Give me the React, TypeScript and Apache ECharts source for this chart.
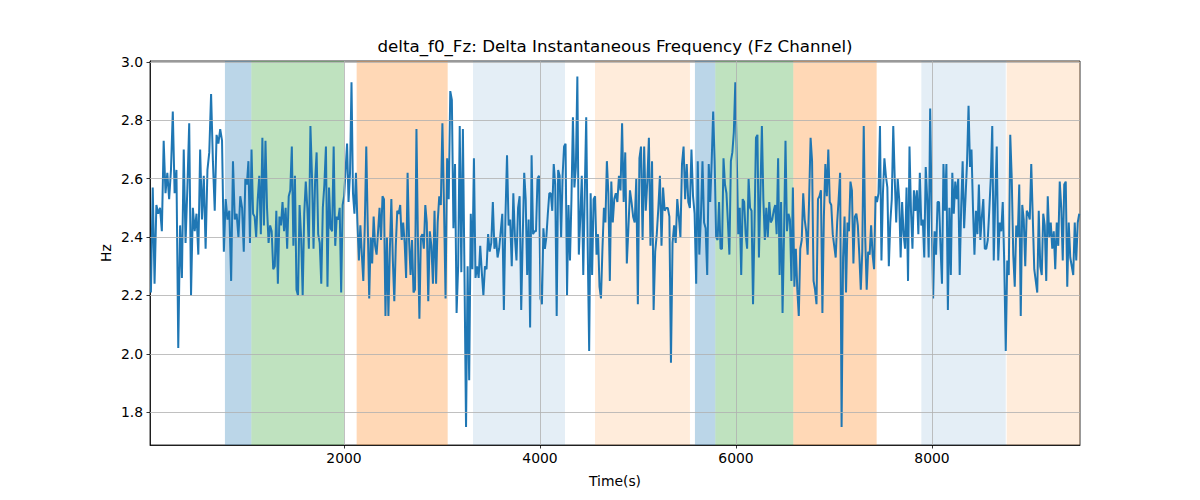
import React, { useEffect, useRef } from "react";
import * as echarts from "echarts";

// ---- data ----
const TITLE = "delta_f0_Fz: Delta Instantaneous Frequency (Fz Channel)";
const X_NAME = "Time(s)";
const Y_NAME = "Hz";
const X_MIN = 20.4;
const X_MAX = 9510;
const Y_MIN = 1.688;
const Y_MAX = 3.003;
const X_TICKS = [2000, 4000, 6000, 8000];
const Y_TICKS = [1.8, 2.0, 2.2, 2.4, 2.6, 2.8, 3.0];

// frequency readings, in ten consecutive equal time slices
const seg01 = [2.21, 2.57, 2.24, 2.51, 2.48, 2.50, 2.42, 2.73, 2.55, 2.62, 2.53, 2.63, 2.83, 2.55, 2.63, 2.02, 2.44, 2.26, 2.70, 2.38, 2.57, 2.79, 2.20, 2.50, 2.42, 2.48, 2.34, 2.70, 2.46, 2.61, 2.36, 2.63, 2.69, 2.89, 2.66, 2.49, 2.75, 2.72, 2.77, 2.73, 2.35, 2.53, 2.46, 2.49, 2.25, 2.66, 2.46, 2.48, 2.40, 2.54, 2.50];
const seg02 = [2.35, 2.60, 2.58, 2.66, 2.38, 2.70, 2.48, 2.47, 2.40, 2.53, 2.61, 2.41, 2.74, 2.44, 2.73, 2.50, 2.38, 2.44, 2.42, 2.29, 2.30, 2.49, 2.24, 2.47, 2.44, 2.52, 2.42, 2.50, 2.36, 2.54, 2.56, 2.71, 2.37, 2.61, 2.22, 2.20, 2.51, 2.40, 2.20, 2.48, 2.59, 2.50, 2.36, 2.78, 2.61, 2.36, 2.59, 2.69, 2.41, 2.38, 2.24, 2.50, 2.58, 2.71, 2.23, 2.57, 2.43, 2.42, 2.71, 2.37];
const seg03 = [2.47, 2.46, 2.50, 2.21, 2.51, 2.54, 2.63, 2.72, 2.52, 2.62, 2.93, 2.55, 2.48, 2.62, 2.45, 2.32, 2.44, 2.34, 2.25, 2.44, 2.71, 2.44, 2.19, 2.40, 2.31, 2.47, 2.37, 2.34, 2.42, 2.50, 2.39, 2.54, 2.53, 2.13, 2.40, 2.13, 2.36, 2.53, 2.32, 2.18, 2.37, 2.49, 2.48, 2.51, 2.39, 2.45, 2.38, 2.26, 2.62, 2.39, 2.27, 2.39, 2.21, 2.22, 2.77, 2.39, 2.12, 2.40, 2.41, 2.36, 2.51, 2.45, 2.18];
const seg04 = [2.42, 2.37, 2.24, 2.49, 2.24, 2.45, 2.54, 2.51, 2.79, 2.51, 2.19, 2.67, 2.53, 2.90, 2.87, 2.43, 2.65, 2.14, 2.30, 2.78, 2.28, 2.77, 2.28, 1.75, 2.30, 1.91, 2.48, 2.29, 2.67, 2.26, 2.30, 2.26, 2.37, 2.28, 2.20, 2.30, 2.29, 2.41, 2.35, 2.38, 2.52, 2.36, 2.40, 2.33, 2.36, 2.42, 2.48, 2.15, 2.47, 2.68, 2.44, 2.46, 2.30, 2.55, 2.40, 2.32, 2.50, 2.54, 2.15];
const seg05 = [2.40, 2.62, 2.53, 2.27, 2.46, 2.09, 2.68, 2.41, 2.42, 2.42, 2.60, 2.61, 2.19, 2.17, 2.43, 2.36, 2.40, 2.48, 2.55, 2.55, 2.49, 2.65, 2.58, 2.13, 2.63, 2.61, 2.40, 2.61, 2.71, 2.72, 2.20, 2.51, 2.32, 2.53, 2.81, 2.57, 2.64, 2.95, 2.34, 2.47, 2.61, 2.27, 2.55, 2.81, 2.37, 2.01, 2.55, 2.27, 2.53, 2.54, 2.34, 2.41, 2.23, 2.19, 2.36, 2.50, 2.45, 2.66, 2.55, 2.25, 2.59, 2.45, 2.53];
const seg06 = [2.55, 2.52, 2.61, 2.56, 2.79, 2.52, 2.69, 2.31, 2.43, 2.56, 2.52, 2.47, 2.45, 2.60, 2.17, 2.67, 2.71, 2.39, 2.71, 2.49, 2.59, 2.74, 2.37, 2.66, 2.15, 2.35, 2.41, 2.50, 2.61, 2.37, 2.57, 2.49, 2.50, 2.50, 2.47, 1.97, 2.38, 2.44, 2.38, 2.53, 2.47, 2.40, 2.65, 2.71, 2.53, 2.65, 2.52, 2.50, 2.70, 2.54, 2.48, 2.24, 2.66, 2.34, 2.47, 2.66, 2.45, 2.43, 2.27];
const seg07 = [2.65, 2.52, 2.66, 2.83, 2.66, 2.40, 2.39, 2.52, 2.36, 2.36, 2.67, 2.58, 2.55, 2.45, 2.34, 2.66, 2.69, 2.76, 2.93, 2.67, 2.41, 2.50, 2.27, 2.53, 2.52, 2.41, 2.36, 2.60, 2.50, 2.49, 2.17, 2.44, 2.74, 2.75, 2.33, 2.55, 2.78, 2.53, 2.39, 2.50, 2.40, 2.52, 2.45, 2.46, 2.49, 2.51, 2.41, 2.67, 2.27, 2.52, 2.14, 2.41, 2.73, 2.42, 2.48, 2.46, 2.25, 2.57, 2.23, 2.36, 2.22, 2.13, 2.36];
const seg08 = [2.39, 2.55, 2.46, 2.42, 2.34, 2.53, 2.74, 2.66, 2.25, 2.22, 2.17, 2.53, 2.54, 2.56, 2.14, 2.47, 2.65, 2.54, 2.70, 2.52, 2.51, 2.41, 2.37, 2.33, 2.45, 2.53, 2.62, 1.75, 2.33, 2.47, 2.21, 2.45, 2.42, 2.59, 2.56, 2.31, 2.47, 2.48, 2.44, 2.34, 2.22, 2.35, 2.78, 2.40, 2.22, 2.35, 2.34, 2.44, 2.34, 2.29, 2.54, 2.52, 2.55, 2.78, 2.32, 2.55, 2.67, 2.61, 2.57, 2.30, 2.45, 2.53, 2.78];
const seg09 = [2.60, 2.45, 2.60, 2.53, 2.33, 2.52, 2.41, 2.36, 2.57, 2.25, 2.71, 2.49, 2.36, 2.56, 2.49, 2.56, 2.41, 2.62, 2.44, 2.46, 2.33, 2.64, 2.53, 2.33, 2.84, 2.49, 2.19, 2.42, 2.34, 2.52, 2.52, 2.37, 2.24, 2.65, 2.49, 2.65, 2.15, 2.50, 2.27, 2.62, 2.48, 2.59, 2.53, 2.60, 2.27, 2.50, 2.66, 2.43, 2.54, 2.66, 2.85, 2.64, 2.70, 2.50, 2.34, 2.49, 2.41, 2.58, 2.39, 2.47, 2.53, 2.36, 2.36];
const seg10 = [2.39, 2.49, 2.60, 2.78, 2.32, 2.53, 2.71, 2.32, 2.45, 2.42, 2.52, 2.31, 2.01, 2.32, 2.27, 2.75, 2.60, 2.34, 2.23, 2.44, 2.40, 2.58, 2.13, 2.51, 2.46, 2.30, 2.49, 2.48, 2.46, 2.65, 2.47, 2.29, 2.25, 2.21, 2.49, 2.30, 2.27, 2.48, 2.44, 2.25, 2.54, 2.40, 2.45, 2.36, 2.42, 2.29, 2.45, 2.37, 2.59, 2.50, 2.32, 2.58, 2.59, 2.23, 2.45, 2.33, 2.30, 2.27, 2.45, 2.32, 2.45, 2.48];
const SEGMENTS = [seg01, seg02, seg03, seg04, seg05, seg06, seg07, seg08, seg09, seg10];

// shaded intervals [start, end, kind]
const SPAN_STARTS = [785, 1055, 2129, 3316, 4561, 5581, 5789, 6585, 7891, 8762];
const SPAN_ENDS = [1055, 2000, 3058, 4255, 5530, 5789, 6585, 7435, 8752, 9510];
const SPAN_KINDS = ["blue", "green", "orange", "lightblue", "lightorange", "blue", "green", "orange", "lightblue", "lightorange"];

const SPAN_COLORS: Record<string, string> = {
  blue: "rgba(31,119,180,0.3)",
  green: "rgba(44,160,44,0.3)",
  orange: "rgba(255,127,14,0.3)",
  lightblue: "rgba(31,119,180,0.12)",
  lightorange: "rgba(255,127,14,0.15)",
};

const FONT = "DejaVu Sans";

function buildLine(): [number, number][] {
  const span = (X_MAX - X_MIN) / SEGMENTS.length;
  const out: [number, number][] = [];
  SEGMENTS.forEach((seg, k) => {
    const step = span / seg.length;
    seg.forEach((v, i) => {
      out.push([X_MIN + k * span + (i + 0.5) * step, v]);
    });
  });
  return out;
}

export default function App() {
  const ref = useRef<HTMLDivElement>(null);
  useEffect(() => {
    if (!ref.current) return;
    const chart = echarts.init(ref.current, null, { renderer: "svg" });
    const gridLeft = 150, gridRight = 1080, gridTop = 61, gridBottom = 445;
    const cx = (gridLeft + gridRight) / 2;
    const gridMarks: any[] = [
      ...Y_TICKS.map((v) => ({ yAxis: v })),
      ...X_TICKS.map((v) => ({ xAxis: v })),
    ];
    chart.setOption({
      animation: false,
      backgroundColor: "#ffffff",
      grid: {
        left: gridLeft,
        right: 1200 - gridRight,
        top: gridTop,
        bottom: 500 - gridBottom,
        show: true,
        borderColor: "#000",
        borderWidth: 0.8,
        backgroundColor: "transparent",
      },
      xAxis: {
        type: "value",
        min: X_MIN,
        max: X_MAX,
        axisLine: { show: true, lineStyle: { color: "#000", width: 0.8 } },
        axisTick: { show: true, length: 3.5, customValues: X_TICKS, lineStyle: { color: "#000", width: 0.8 } },
        axisLabel: {
          customValues: X_TICKS,
          color: "#000",
          fontFamily: FONT,
          fontSize: 13.9,
          margin: 6,
          formatter: (v: number) => String(Math.round(v)),
        },
        splitLine: { show: false },
      },
      yAxis: {
        type: "value",
        min: Y_MIN,
        max: Y_MAX,
        axisLine: { show: true, lineStyle: { color: "#000", width: 0.8 } },
        axisTick: { show: true, length: 3.5, customValues: Y_TICKS, lineStyle: { color: "#000", width: 0.8 } },
        axisLabel: {
          customValues: Y_TICKS,
          color: "#000",
          fontFamily: FONT,
          fontSize: 13.9,
          margin: 7,
          formatter: (v: number) => v.toFixed(1),
        },
        splitLine: { show: false },
      },
      graphic: [
        {
          type: "text",
          x: cx,
          y: 46,
          style: {
            text: TITLE,
            fontFamily: FONT,
            fontSize: 16.7,
            fill: "#000",
            textAlign: "center",
            textVerticalAlign: "middle",
          },
        },
        {
          type: "text",
          x: cx,
          y: 481,
          style: {
            text: X_NAME,
            fontFamily: FONT,
            fontSize: 13.9,
            fill: "#000",
            textAlign: "center",
            textVerticalAlign: "middle",
          },
        },
        {
          type: "text",
          x: 106,
          y: (gridTop + gridBottom) / 2,
          rotation: Math.PI / 2,
          style: {
            text: Y_NAME,
            fontFamily: FONT,
            fontSize: 13.9,
            fill: "#000",
            textAlign: "center",
            textVerticalAlign: "middle",
          },
        },
      ],
      series: [
        {
          type: "line",
          data: [],
          z: 1,
          silent: true,
          markArea: {
            silent: true,
            label: { show: false },
            data: SPAN_STARTS.map((s, i) => [
              { xAxis: s, itemStyle: { color: SPAN_COLORS[SPAN_KINDS[i]] } },
              { xAxis: SPAN_ENDS[i] },
            ]),
          },
        },
        {
          type: "line",
          data: [],
          z: 2,
          silent: true,
          markLine: {
            silent: true,
            symbol: ["none", "none"],
            label: { show: false },
            lineStyle: { color: "#b0b0b0", width: 0.8, type: "solid" },
            data: gridMarks,
          },
        },
        {
          type: "line",
          data: buildLine(),
          z: 3,
          showSymbol: false,
          symbol: "none",
          lineStyle: { color: "#1f77b4", width: 2 },
        },
      ],
    });
    return () => chart.dispose();
  }, []);
  return (
    <div
      ref={ref}
      style={{ position: "absolute", left: 0, top: 0, width: 1200, height: 500 }}
    />
  );
}
